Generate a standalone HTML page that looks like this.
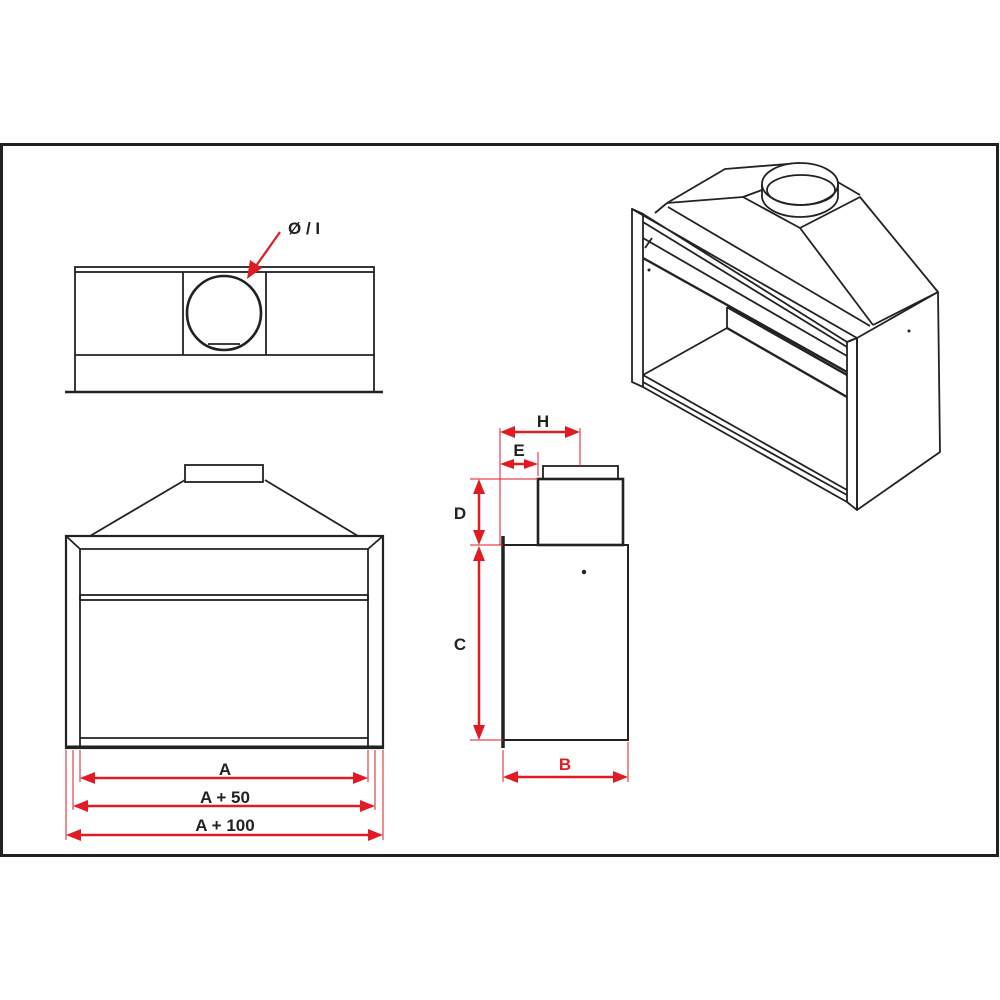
<!DOCTYPE html>
<html><head><meta charset="utf-8"><style>
html,body{margin:0;padding:0;background:#fff;}
svg{display:block}
text{font-family:"Liberation Sans",sans-serif;font-weight:bold;}
</style></head><body>
<svg width="1000" height="1000" viewBox="0 0 1000 1000" xmlns="http://www.w3.org/2000/svg">
<rect x="1.5" y="144.5" width="996" height="711" fill="none" stroke="#222" stroke-width="3"/>

<!-- Top view -->
<g fill="none" stroke="#222" stroke-width="1.8">
<rect x="75" y="267" width="299" height="5"/>
<line x1="75" y1="272" x2="75" y2="392"/>
<line x1="374" y1="272" x2="374" y2="392"/>
<line x1="183" y1="272" x2="183" y2="355"/>
<line x1="266" y1="272" x2="266" y2="355"/>
<line x1="75" y1="355" x2="374" y2="355"/>
<line x1="65" y1="392" x2="383" y2="392" stroke-width="2.5"/>
<circle cx="224" cy="313" r="37" stroke-width="2.6"/>
<line x1="208" y1="344" x2="240" y2="344"/>
</g>
<line x1="280" y1="232" x2="256" y2="266" stroke="#e01b24" stroke-width="2.2"/>
<polygon points="247,279 250,260 262,268" fill="#e01b24"/>
<text x="288" y="234" font-size="17" fill="#222">Ø / I</text>

<!-- Front view -->
<g fill="none" stroke="#222" stroke-width="1.8">
<rect x="185" y="465" width="78" height="17"/>
<line x1="185" y1="480" x2="90" y2="536"/>
<line x1="265" y1="480" x2="358" y2="536"/>
<rect x="66" y="536" width="317" height="212" stroke-width="2.2"/>
<line x1="66" y1="536" x2="80" y2="549"/>
<line x1="383" y1="536" x2="368" y2="549"/>
<line x1="80" y1="549" x2="368" y2="549"/>
<line x1="80" y1="549" x2="80" y2="748"/>
<line x1="368" y1="549" x2="368" y2="748"/>
<rect x="80" y="595" width="288" height="5"/>
<line x1="80" y1="738" x2="368" y2="738"/>
<line x1="66" y1="747" x2="383" y2="747" stroke-width="3"/>
</g>
<g stroke="#e01b24" stroke-width="1" fill="none">
<line x1="80" y1="750" x2="80" y2="782"/><line x1="368" y1="750" x2="368" y2="782"/>
<line x1="73" y1="750" x2="73" y2="810"/><line x1="375" y1="750" x2="375" y2="810"/>
<line x1="66" y1="750" x2="66" y2="840"/><line x1="383" y1="750" x2="383" y2="840"/>
</g>
<g stroke="#e01b24" stroke-width="2.5">
<line x1="90" y1="778" x2="358" y2="778"/>
<line x1="83" y1="806" x2="365" y2="806"/>
<line x1="76" y1="835" x2="373" y2="835"/>
</g>
<g fill="#e01b24">
<polygon points="80,778 95,772 95,784"/><polygon points="368,778 353,772 353,784"/>
<polygon points="73,806 88,800 88,812"/><polygon points="375,806 360,800 360,812"/>
<polygon points="66,835 81,829 81,841"/><polygon points="383,835 368,829 368,841"/>
</g>
<g fill="#222" font-size="17" text-anchor="middle">
<text x="225" y="775">A</text>
<text x="225" y="803">A + 50</text>
<text x="225" y="831">A + 100</text>
</g>

<!-- Side view -->
<g fill="none" stroke="#222" stroke-width="1.8">
<rect x="503" y="545" width="125" height="195" stroke-width="2"/>
<line x1="503" y1="536" x2="503" y2="748" stroke-width="3.5"/>
<rect x="538" y="479" width="85" height="66" stroke-width="2.6"/>
<rect x="543" y="466" width="75" height="13"/>
</g>
<circle cx="584" cy="572" r="2.2" fill="#222"/>
<g stroke="#e01b24" stroke-width="1" fill="none">
<line x1="500" y1="428" x2="500" y2="545"/>
<line x1="580" y1="428" x2="580" y2="466"/>
<line x1="538" y1="452" x2="538" y2="476"/>
<line x1="470" y1="479" x2="538" y2="479"/>
<line x1="470" y1="545" x2="503" y2="545"/>
<line x1="470" y1="740" x2="503" y2="740"/>
<line x1="628" y1="742" x2="628" y2="782"/>
<line x1="503" y1="750" x2="503" y2="782"/>
</g>
<g stroke="#e01b24" stroke-width="2.5">
<line x1="510" y1="432" x2="570" y2="432"/>
<line x1="508" y1="464" x2="530" y2="464"/>
<line x1="479" y1="489" x2="479" y2="535"/>
<line x1="479" y1="555" x2="479" y2="730"/>
<line x1="513" y1="777" x2="618" y2="777"/>
</g>
<g fill="#e01b24">
<polygon points="500,432 515,426 515,438"/><polygon points="580,432 565,426 565,438"/>
<polygon points="500,464 514,459 514,469"/><polygon points="538,464 524,459 524,469"/>
<polygon points="479,479 473,494 485,494"/><polygon points="479,545 473,530 485,530"/>
<polygon points="479,546 473,561 485,561"/><polygon points="479,740 473,725 485,725"/>
<polygon points="503,777 518,771 518,783"/><polygon points="628,777 613,771 613,783"/>
</g>
<g fill="#222" font-size="17" text-anchor="middle">
<text x="543" y="427">H</text>
<text x="519" y="456">E</text>
<text x="460" y="519">D</text>
<text x="460" y="650">C</text>
</g>
<text x="565" y="770" font-size="17" fill="#e01b24" text-anchor="middle">B</text>

<!-- Iso view -->
<g fill="none" stroke="#222" stroke-width="1.8" stroke-linejoin="round">
<!-- hood -->
<polyline points="667,203 725,169 800,163"/>
<polyline points="667,203 743,197 800,228 873,325"/>
<polyline points="800,228 860,197 938,292"/>
<line x1="836" y1="181" x2="860" y2="195"/>
<line x1="743" y1="197" x2="762" y2="190"/>
<line x1="873" y1="325" x2="938" y2="292"/>
<line x1="668" y1="207" x2="870" y2="326"/>
<line x1="655" y1="213" x2="667" y2="203"/>
<!-- collar -->
<path d="M762,184 L762,196 A38,21 0 0 0 838,196 L838,184" fill="#fff"/>
<ellipse cx="800" cy="184" rx="38" ry="21" fill="#fff"/>
<ellipse cx="801" cy="190" rx="34" ry="15"/>
<!-- frame left post -->
<polygon points="632,209 643,214 643,387 632,382" fill="#fff"/>
<!-- top frame band -->
<polygon points="632,209 857,338 847,342 643,214"/>
<line x1="643" y1="222" x2="847" y2="347"/>
<line x1="643" y1="238" x2="847" y2="356"/>
<line x1="643" y1="258" x2="847" y2="372" stroke-width="2.4"/>
<line x1="727" y1="307" x2="847" y2="375" stroke-width="2.4"/>
<line x1="727" y1="328" x2="847" y2="397" stroke-width="2.4"/>
<line x1="727" y1="307" x2="727" y2="328"/>
<line x1="643" y1="375" x2="727" y2="328"/>
<line x1="645" y1="248" x2="652" y2="238"/>
<!-- right post -->
<polygon points="847,342 857,338 857,510 847,502"/>
<!-- bottom -->
<line x1="643" y1="375" x2="847" y2="490"/>
<line x1="643" y1="382" x2="847" y2="495"/>
<line x1="643" y1="387" x2="847" y2="502"/>
<!-- right side -->
<polygon points="857,338 938,292 940,452 857,510"/>
</g>
<circle cx="909" cy="331" r="1.5" fill="#222"/>
<circle cx="649" cy="270" r="1.5" fill="#222"/>
</svg>
</body></html>
